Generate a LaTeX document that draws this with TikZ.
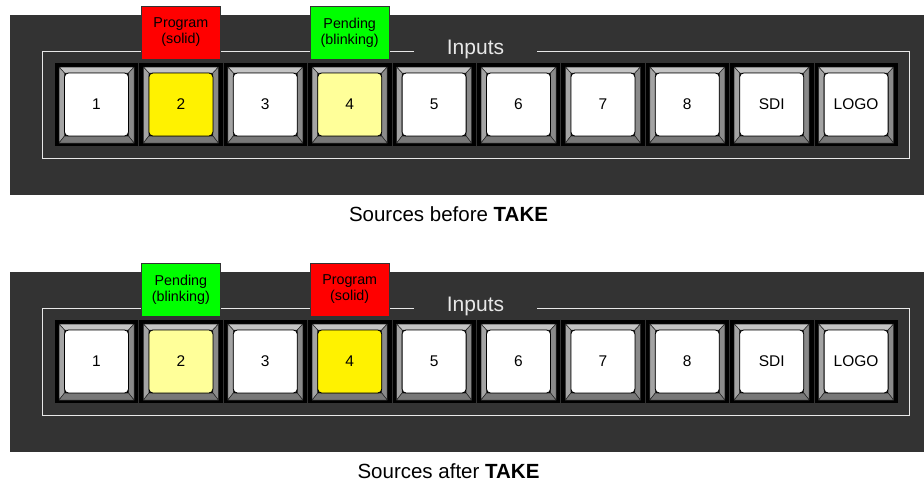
\documentclass[tikz,border=0pt]{standalone}
\usepackage{fontspec}
\setmainfont{Liberation Sans}
\definecolor{panelgray}{HTML}{333333}
\definecolor{bevtop}{HTML}{C4C4C4}
\definecolor{bevleft}{HTML}{A4A4A4}
\definecolor{bevright}{HTML}{8A8A8A}
\definecolor{bevbot}{HTML}{787878}
\definecolor{pendyel}{HTML}{FFFF99}
\definecolor{progred}{HTML}{FF0000}
\definecolor{pendgreen}{HTML}{00FF00}
\definecolor{framecol}{HTML}{E8E8E8}
\tikzset{
 panelbg/.style={fill=panelgray, draw=none},
 frameline/.style={draw=framecol, line width=1pt},
 cellbox/.style={fill=black, draw=none},
 bevel/.style={draw=black!85, line width=0.5pt, line join=round},
 keyface/.style={draw=black, line width=0.8pt, rounded corners=4pt, minimum width=64pt, minimum height=63pt, inner sep=0pt, font=\fontsize{15.5}{18}\selectfont},
 tagbox/.style={draw=black!80, line width=0.6pt, minimum width=79pt, minimum height=53pt, inner sep=0pt, align=center, font=\fontsize{14.3}{16}\selectfont},
 inputslabel/.style={text=framecol, font=\fontsize{21}{24}\selectfont, inner sep=0pt, anchor=base},
 captiontext/.style={font=\fontsize{20.5}{24}\selectfont, inner sep=0pt, anchor=base},
}
\newcommand\switcherpanel[9]{%
\begin{scope}[yshift=#1]
 \fill[panelbg] (10,15) rectangle (924,195);
 \draw[frameline] (414,51) -- (42,51) -- (42,158) -- (909,158) -- (909,51) -- (537,51);
 \node[inputslabel] (#9inputs) at (475.5,54) {Inputs};
 \foreach \lab/\col [count=\i from 0] in {1/white,2/#2,3/white,4/#3,5/white,6/white,7/white,8/white,SDI/white,LOGO/white}{
  \pgfmathsetmacro\cl{55+84.4*\i}
  \pgfmathsetmacro\xa{\cl+4}
  \pgfmathsetmacro\xb{\cl+79}
  \pgfmathsetmacro\ia{\cl+9.5}
  \pgfmathsetmacro\ib{\cl+73.5}
  \pgfmathsetmacro\cx{\cl+41.5}
  \fill[cellbox] (\cl,63) rectangle ++(83.4,83);
  \filldraw[bevel, fill=bevtop] (\xa,67) -- (\xb,67) -- (\ib,73) -- (\ia,73) -- cycle;
  \filldraw[bevel, fill=bevleft] (\xa,67) -- (\ia,73) -- (\ia,136) -- (\xa,143) -- cycle;
  \filldraw[bevel, fill=bevright] (\xb,67) -- (\xb,143) -- (\ib,136) -- (\ib,73) -- cycle;
  \filldraw[bevel, fill=bevbot] (\xa,143) -- (\ia,136) -- (\ib,136) -- (\xb,143) -- cycle;
  \node[keyface, fill=\col] (#9key\lab) at (\cx,104.5) {\lab};
 }
 \node[tagbox, fill=#4] (#9tagA) at (180.9,32.5) {#5};
 \node[tagbox, fill=#6] (#9tagB) at (349.7,32.5) {#7};
 \node[captiontext] (#9caption) at (448.5,221.7) {#8};
\end{scope}}
\begin{document}
\begin{tikzpicture}[x=1pt,y=-1pt]
\useasboundingbox (0,0) rectangle (924,483);
\switcherpanel{0pt}{yellow}{pendyel}{progred}{Program\\(solid)}{pendgreen}{Pending\\(blinking)}{Sources before \textbf{TAKE}}{top}
\switcherpanel{-257pt}{pendyel}{yellow}{pendgreen}{Pending\\(blinking)}{progred}{Program\\(solid)}{Sources after \textbf{TAKE}}{bot}
\end{tikzpicture}
\end{document}
